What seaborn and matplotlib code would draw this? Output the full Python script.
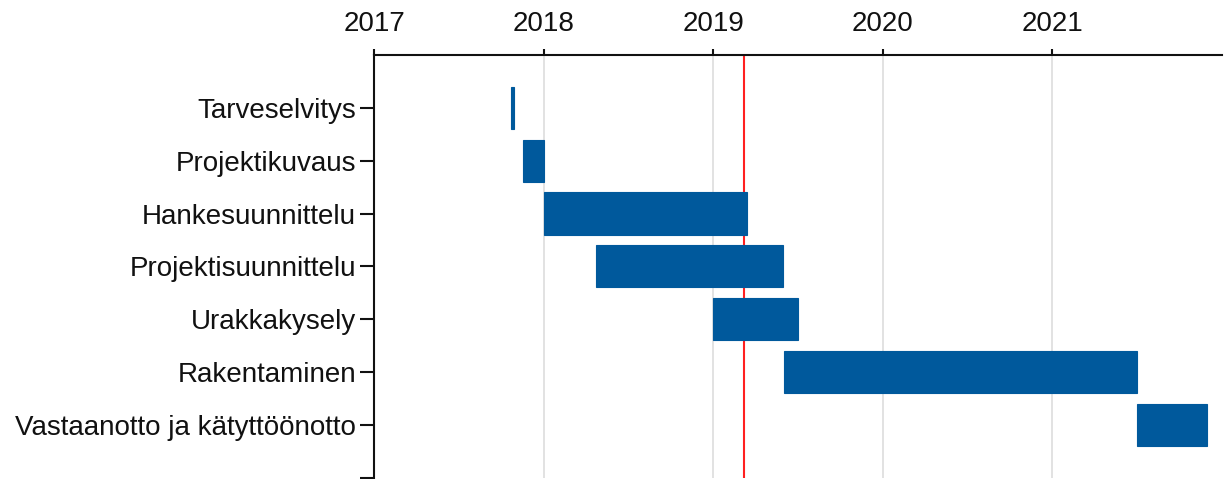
import numpy as np
import seaborn as sns
import matplotlib.pyplot as plt

# project phases (decimal years)
phases = ["Tarveselvitys", "Projektikuvaus", "Hankesuunnittelu",
          "Projektisuunnittelu", "Urakkakysely", "Rakentaminen",
          "Vastaanotto ja kätyttöönotto"]
starts = [2017.81, 2017.88, 2018.00, 2018.31, 2019.00, 2019.42, 2021.50]
ends = [2017.826, 2018.00, 2019.20, 2019.41, 2019.50, 2021.50, 2021.91]
today = 2019.18
years = [2017, 2018, 2019, 2020, 2021]

sns.set_theme(style="white")
plt.rcParams["font.family"] = ["Liberation Sans", "DejaVu Sans"]

fig = plt.figure(figsize=(12.32, 4.79), dpi=100)
ax = fig.add_axes([0.3036, 0.003, 0.6883, 0.882])

pos = np.arange(1, len(phases) + 1)
ax.barh(pos, np.array(ends) - np.array(starts), left=starts, height=0.8,
        color="#00599C", edgecolor="#00599C", linewidth=0.8, zorder=3)
ax.axvline(today, color="#FF2020", lw=1.5, zorder=2)

ax.set_xlim(2017, 2022)
ax.set_ylim(8, 0)
ax.set_xticks(years)
ax.set_xticklabels([str(y) for y in years])
ax.set_yticks(list(pos) + [8])
ax.set_yticklabels(phases + [""])
ax.xaxis.tick_top()
ax.grid(axis="x", color="#DDDDDD", lw=1.2, zorder=0)
ax.grid(axis="y", visible=False)

sns.despine(ax=ax, top=False, right=True, bottom=True, left=False)
for s in ["top", "left"]:
    ax.spines[s].set_color("#111111")
    ax.spines[s].set_linewidth(1.5)
ax.tick_params(axis="x", top=True, length=4, width=1.5, color="#111111",
               labelsize=20, pad=9, labelcolor="#111111")
ax.tick_params(axis="y", left=True, length=10, width=1.5, color="#111111",
               labelsize=20, pad=3, labelcolor="#111111")

fig.savefig("out.png", dpi=100)
